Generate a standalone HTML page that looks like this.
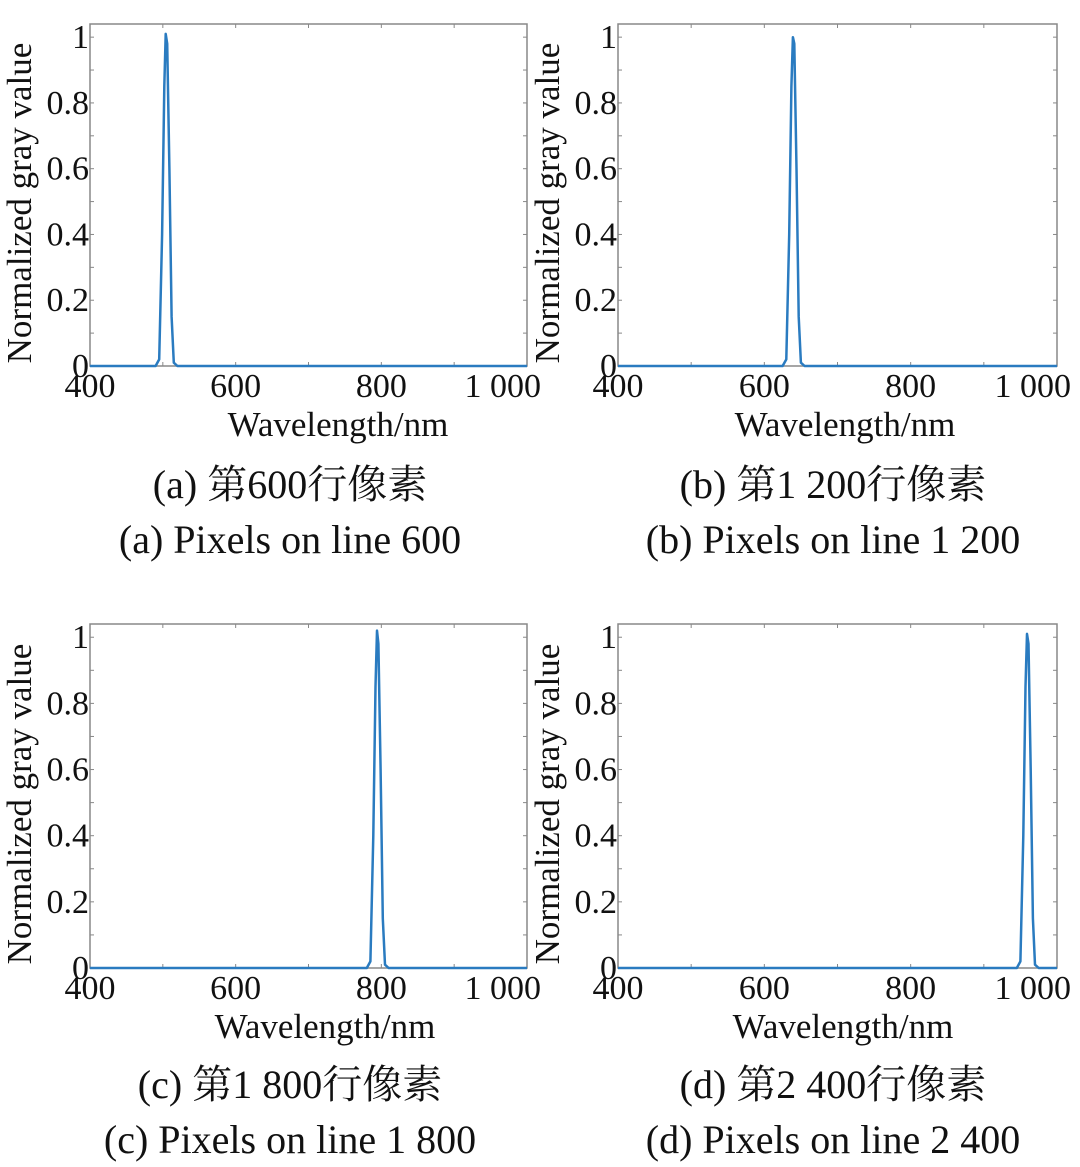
<!DOCTYPE html>
<html><head><meta charset="utf-8"><style>
body{margin:0;background:#fff;width:1080px;height:1162px;overflow:hidden}
svg text{font-family:"Liberation Serif","Noto Serif CJK SC",serif;fill:#111}
</style></head><body>
<svg id="s" width="1080" height="1162"></svg>
<script>
const xTicks=[400,600,800,1000];
const xTickLabels=["400","600","800","1 000"];
const yTicks=[0,0.2,0.4,0.6,0.8,1];
const yTickLabels=["0","0.2","0.4","0.6","0.8","1"];
const waveA=[400,490,495,499,502,504,506,509,512,515,520,1000];
const valA=[0,0,0.02,0.4,0.85,1.01,0.98,0.6,0.15,0.01,0,0];
const waveB=[400,625,630,634,637,639,641,644,647,650,655,1000];
const valB=[0,0,0.02,0.4,0.85,1.0,0.98,0.6,0.15,0.01,0,0];
const waveC=[400,780,785,789,792,794,796,799,802,805,810,1000];
const valC=[0,0,0.02,0.4,0.85,1.02,0.98,0.6,0.15,0.01,0,0];
const waveD=[400,945,950,954,957,959,961,964,967,970,975,1000];
const valD=[0,0,0.02,0.4,0.85,1.01,0.98,0.6,0.15,0.01,0,0];
const panels=[
 {id:'a',x0:90,x1:527,y0:24,y1:366,w:waveA,v:valA,c1:'(a) 第600行像素',c2:'(a) Pixels on line 600',cy:485,cx:290,tx:338},
 {id:'b',x0:618,x1:1057,y0:24,y1:366,w:waveB,v:valB,c1:'(b) 第1 200行像素',c2:'(b) Pixels on line 1 200',cy:485,cx:833,tx:845},
 {id:'c',x0:90,x1:527,y0:624,y1:968,w:waveC,v:valC,c1:'(c) 第1 800行像素',c2:'(c) Pixels on line 1 800',cy:1085,cx:290,tx:325},
 {id:'d',x0:618,x1:1057,y0:624,y1:968,w:waveD,v:valD,c1:'(d) 第2 400行像素',c2:'(d) Pixels on line 2 400',cy:1085,cx:833,tx:843}];
const NS='http://www.w3.org/2000/svg',S=document.getElementById('s');
function mk(t,a,p,txt){const e=document.createElementNS(NS,t);for(const k in a)e.setAttribute(k,a[k]);if(txt!==undefined)e.textContent=txt;(p||S).appendChild(e);return e;}
panels.forEach(P=>{
 const g=mk('g',{});
 
 
 const yMax=1.04;
 const xs=w=>P.x0+(w-400)/600*(P.x1-P.x0);
 const ys=v=>P.y1-v/yMax*(P.y1-P.y0);
 const box=mk('rect',{x:P.x0,y:P.y0,width:P.x1-P.x0,height:P.y1-P.y0,fill:'none',stroke:'#888','stroke-width':1.5},g);
 
 
 for(let w=400;w<=1000;w+=100){mk('line',{x1:xs(w),x2:xs(w),y1:P.y0,y2:P.y0+4,stroke:'#888'},g);mk('line',{x1:xs(w),x2:xs(w),y1:P.y1,y2:P.y1-4,stroke:'#888'},g);}
 for(let i=0;i<=10;i++){const v=i/10;mk('line',{x1:P.x0,x2:P.x0+4,y1:ys(v),y2:ys(v),stroke:'#888'},g);mk('line',{x1:P.x1,x2:P.x1-4,y1:ys(v),y2:ys(v),stroke:'#888'},g);}
 xTicks.forEach((t,i)=>{const last=i===xTicks.length-1;
  const e=mk('text',{x:last?xs(t)+14:xs(t),y:P.y1+31,'font-size':34,'text-anchor':last?'end':'middle'},g,xTickLabels[i]);
  
  });
 yTicks.forEach((t,i)=>{const e=mk('text',{x:P.x0-1,y:ys(t)+11,'font-size':34,'text-anchor':'end'},g,yTickLabels[i]);
  
  });
 const yl=mk('text',{x:0,y:0,'font-size':35,'text-anchor':'middle',transform:`translate(${P.x0-59},${(P.y0+P.y1)/2+8}) rotate(-90)`},g,'Normalized gray value');
 
 
 const xl=mk('text',{x:P.tx,y:P.y1+70,'font-size':35,'text-anchor':'middle'},g,'Wavelength/nm');
 
 
 const d=P.w.map((w,i)=>(i?'L':'M')+xs(w).toFixed(1)+','+ys(P.v[i]).toFixed(1)).join(' ');
 const ln=mk('path',{d:d,fill:'none',stroke:'#2a7bc0','stroke-width':2.5,'stroke-linejoin':'round'},g);
 
 
 const c1=mk('text',{x:P.cx,y:P.cy+13,'font-size':40,'text-anchor':'middle'},g,P.c1);
 
 
 const c2=mk('text',{x:P.cx,y:P.cy+68,'font-size':40,'text-anchor':'middle'},g,P.c2);
 
 
});
</script>
</body></html>
